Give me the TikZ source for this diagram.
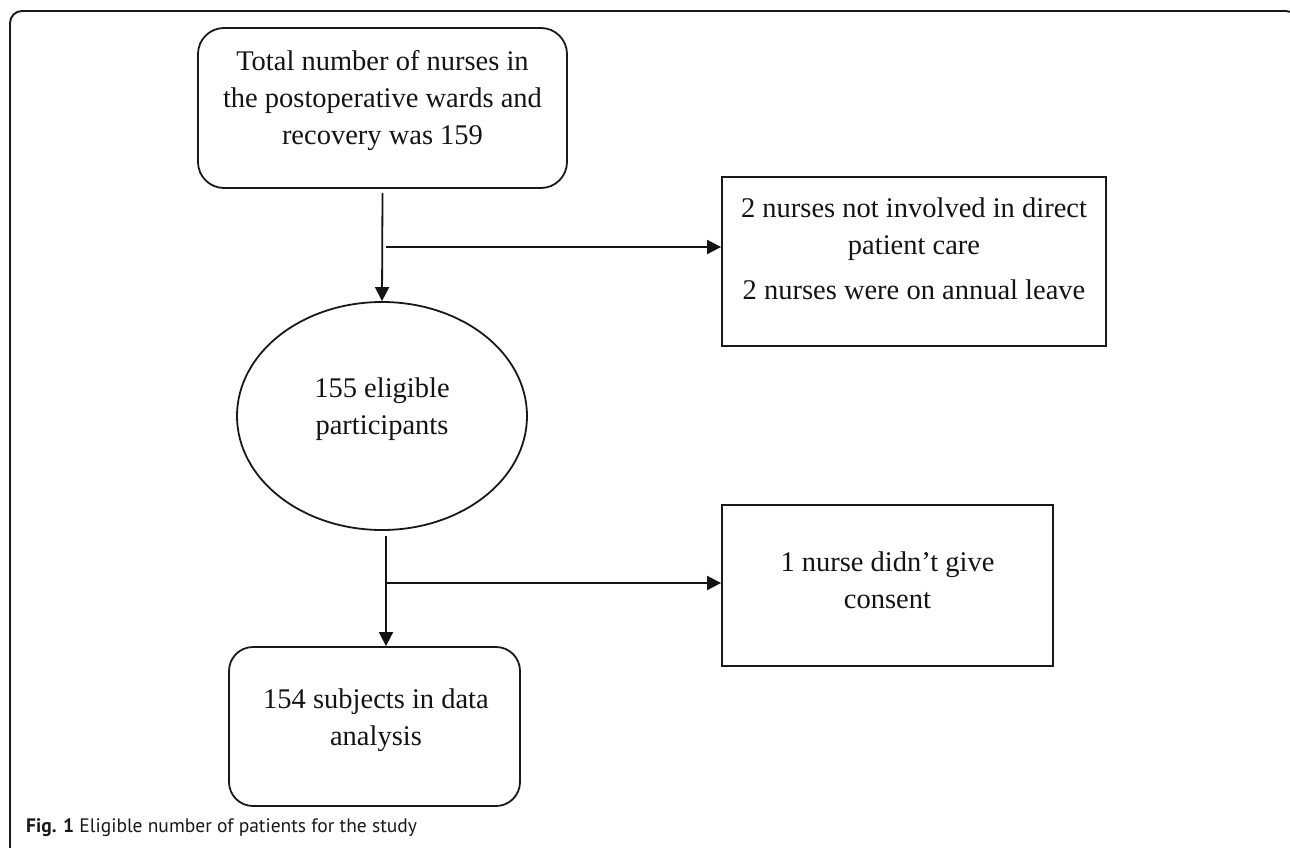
\documentclass[tikz,border=0pt]{standalone}
\usepackage{fontspec}
\setmainfont{Liberation Serif}
\newfontfamily\capfont{PT Sans}
\usetikzlibrary{arrows.meta,shapes.geometric}
\tikzset{
  shapeline/.style={draw=black!90, line width=1.8pt},
  rbox/.style={shapeline, rectangle, rounded corners=#1, inner sep=0pt},
  sbox/.style={shapeline, rectangle, inner sep=0pt},
  txt/.style={align=center, inner sep=0pt, font=\fontsize{28.5}{37}\selectfont, text=black!92},
  arr/.style={draw=black!92, line width=1.8pt, -{Triangle[length=14pt,width=14pt]}},
  plain/.style={draw=black!92, line width=1.8pt},
}
\begin{document}
\begin{tikzpicture}[x=1pt,y=-1pt]
\useasboundingbox (0,0) rectangle (1290,848);
% outer frame
\begin{scope}
\clip (0,0) rectangle (1290,848);
\draw[line width=1.9pt, draw=black!90, rounded corners=12pt] (10,900) -- (10,11) -- (1298,11) -- (1298,900);
\end{scope}
% shapes
\node[rbox=26pt, minimum width=369pt, minimum height=160pt] (top) at (382.5,108) {};
\node[sbox, minimum width=384pt, minimum height=169pt] (b1) at (914,261.5) {};
\node[shapeline, ellipse, minimum width=290pt, minimum height=228pt, inner sep=0pt] (ell) at (382,416) {};
\node[sbox, minimum width=331pt, minimum height=161pt] (b2) at (887.5,585.5) {};
\node[rbox=24pt, minimum width=291pt, minimum height=159pt] (bot) at (374.5,726.5) {};
% texts
\node[txt] (ttop) at (382.5,101) {Total number of nurses in\\the postoperative wards and\\recovery was 159};
\node[txt] (tb1a) at (914,229) {2 nurses not involved in direct\\patient care};
\node[txt] (tb1b) at (914,290) {2 nurses were on annual leave};
\node[txt] (tell) at (382,409) {155 eligible\\participants};
\node[txt] (tb2) at (887.5,580) {1 nurse didn’t give\\consent};
\node[txt] (tbot) at (376,720) {154 subjects in data\\analysis};
% connectors
\coordinate (j1) at (386,247);
\coordinate (j2) at (386,583);
\draw[arr] ([yshift=-4pt]top.south) -- (ell.north);
\draw[arr] (j1) -- (j1 -| b1.west);
\draw[plain] ([yshift=-5pt]ell.south -| j2) -- (j2);
\draw[arr] (j2) -- (j2 |- bot.north);
\draw[arr] (j2) -- (j2 -| b2.west);
% caption
\node[anchor=base west, inner sep=0pt, font=\capfont\fontsize{19.5}{24}\selectfont, text=black!90] (cap) at (26,832) {\textbf{Fig. 1} Eligible number of patients for the study};
\end{tikzpicture}
\end{document}
